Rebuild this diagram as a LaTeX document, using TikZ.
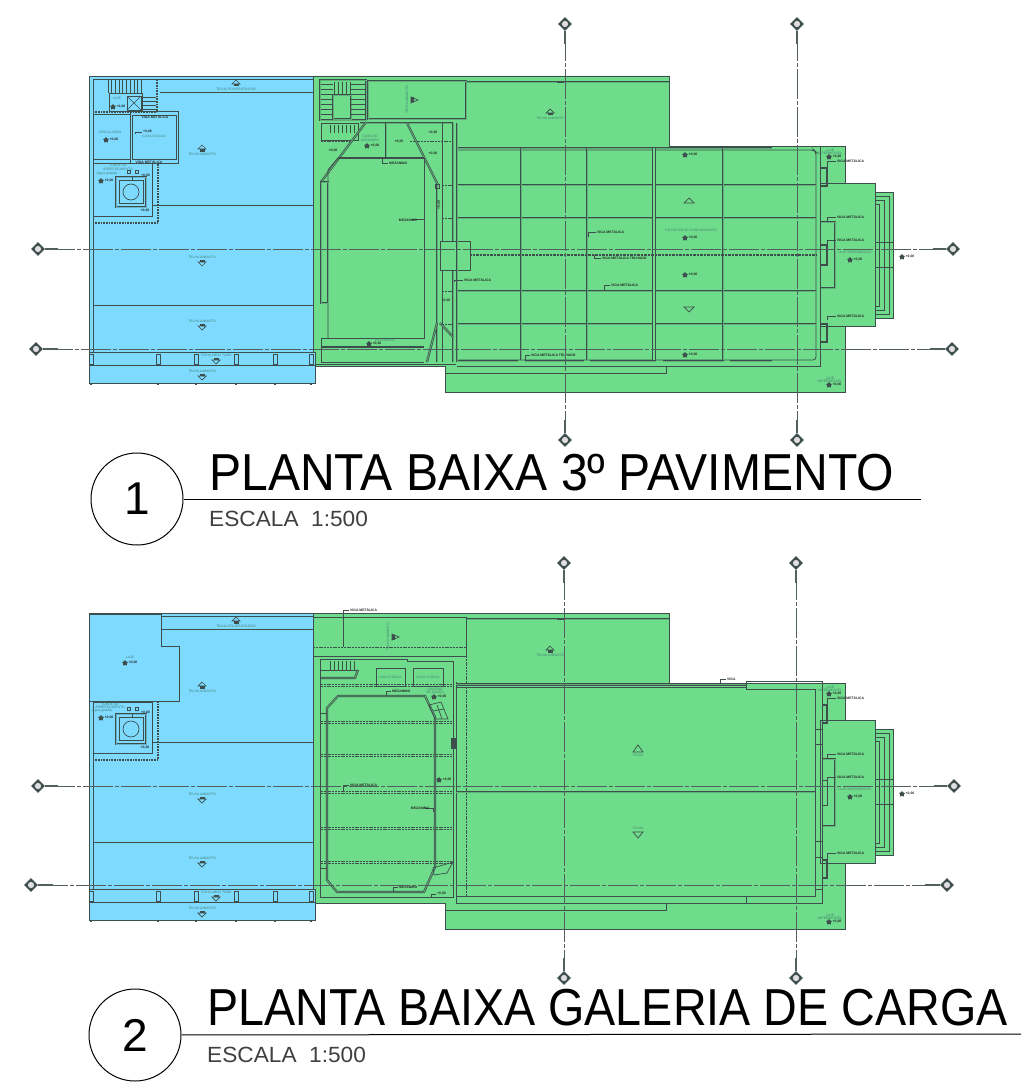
\documentclass[tikz,border=0pt]{standalone}
\usepackage{fontspec}
\setmainfont{Liberation Sans}
\usetikzlibrary{positioning,shapes.geometric}
\definecolor{azul}{RGB}{126,219,255}
\definecolor{verde}{RGB}{110,220,138}
\definecolor{linha}{RGB}{62,78,76}
\definecolor{rotulo}{RGB}{70,130,120}
\tikzset{
  fino/.style={draw=linha,line width=0.7pt},
  medio/.style={draw=linha,line width=0.85pt},
  grosso/.style={draw=linha,line width=1.6pt},
  dupla/.style={draw=linha,line width=0.7pt,double=verde!70!linha,double distance=0.8pt},
  duplaazul/.style={draw=linha,line width=0.7pt,double=azul!70!linha,double distance=0.8pt},
  hachura/.style={draw=linha,line width=1.6pt,dash pattern=on 1pt off 0.6pt},
  tracos/.style={draw=linha,line width=0.7pt,dash pattern=on 2pt off 0.8pt},
  eixo/.style={draw=linha!90!white,line width=0.85pt,dash pattern=on 30pt off 2pt on 4pt off 2pt},
  ponta/.style={draw=linha!90!white,line width=1.6pt},
  marcaeixo/.style={diamond,fill=linha,minimum size=14pt,inner sep=0pt,
    path picture={\draw[draw=linha,fill=white!75!gray,line width=0.7pt] (path picture bounding box.center) circle (3.6pt);}},
  nomeplanta/.style={font=\fontsize{52}{52}\selectfont,anchor=base west,inner sep=0pt,text=black,xscale=0.925},
  escala/.style={font=\fontsize{22}{22}\selectfont,anchor=base west,inner sep=0pt,text=black!75,xscale=1.03},
  numero/.style={circle,draw=black,line width=1pt,minimum size=92pt,inner sep=0pt,font=\fontsize{46}{46}\selectfont,text=black},
  telhatxt/.style={font=\fontsize{3.4}{3.4}\selectfont,text=rotulo,inner sep=0pt},
  notatxt/.style={font=\bfseries\fontsize{3.4}{3.4}\selectfont,text=black!85,inner sep=0pt,align=center},
  nivel/.style={star,star points=5,fill=linha,minimum size=6pt,inner sep=0pt},
}
% seta de caimento e texto da telha
\newcommand{\telhaup}[3]{
  \draw[fino] (#1-4,#2+1) -- (#1,#2-3) -- (#1+4,#2+1) -- cycle;
  \fill[linha] (#1-2.5,#2+1) rectangle (#1+2.5,#2+3.5);
  \node[telhatxt] at (#1,#2+6) {#3};
}
\newcommand{\telhadown}[3]{
  \draw[fino] (#1-4,#2-1) -- (#1,#2+3) -- (#1+4,#2-1) -- cycle;
  \fill[linha] (#1-2.5,#2-1) rectangle (#1+2.5,#2-3.5);
  \node[telhatxt] at (#1,#2-6) {#3};
}
\newcommand{\cotanivel}[3]{
  \node[nivel] at (#1,#2) {};
  \node[notatxt,anchor=west] at (#1+3.5,#2) {#3};
}
\newcommand{\chamada}[5]{
  \draw[fino] (#1,#2) -- (#1,#4) -- (#3,#4);
  \node[notatxt,anchor=west] at (#3+1,#4) {#5};
}
% o que as duas plantas tem em comum
\newcommand{\contorno}{
  \draw[medio,fill=azul] (89,76) rectangle (313,352);
  \draw[medio,fill=azul] (89,352) rectangle (315,383);
  \draw[fino] (89,365) -- (315,365);
  \draw[fino] (89,352) -- (315,352);
  \foreach \xb in {91,158,196,236,275,311} {
    \draw[fino] (\xb-2,354) rectangle (\xb+2,364);
    \fill[linha] (\xb-1,383) rectangle (\xb+1,385);
  }
  \draw[medio,fill=verde] (313,76) -- (669,76) -- (669,146) -- (845,146) -- (845,392)
    -- (445,392) -- (445,366) -- (315,366) -- (315,352) -- (313,352) -- cycle;
  \draw[medio,fill=verde] (875,192) rectangle (893,318);
  \draw[medio,fill=verde] (820,183) rectangle (875,326);
  \draw[fino] (875,196) -- (889,196) -- (889,314) -- (875,314);
  \draw[fino] (875,200) -- (884,200) -- (884,310) -- (875,310);
  \draw[fino] (875,204) -- (879,204) -- (879,306) -- (875,306);
  \draw[medio] (875,242) -- (893,242);
  \draw[medio] (875,267) -- (893,267);
  \draw[dupla] (466,82) -- (669,82);
  \draw[fino] (445,366) -- (445,373) -- (666,373) -- (666,366);
  \fill[linha] (557,81) rectangle (564,83);
}
\begin{document}
\begin{tikzpicture}[x=1pt,y=-1pt]
\useasboundingbox (0,0) rectangle (1021,1089);
\fill[white] (0,0) rectangle (1021,1089);

\contorno
\begin{scope}[shift={(0,537)}]
\contorno
\end{scope}

% ---------- planta 1, lado azul
\draw[fino] (93,79) rectangle (313,352);
\draw[fino] (160,92) -- (313,92);
\draw[fino] (152,205) -- (313,205);
\draw[fino] (93,305) -- (313,305);
\foreach \xb in {108,111.7,...,142} {\draw[fino] (\xb,80) -- (\xb,93);}
\foreach \yb in {97,101,105,109} {\draw[fino] (142,\yb) -- (156,\yb);}
\draw[fino] (109,93) rectangle (142,111);
\draw[fino] (127,96) rectangle (141,110);
\draw[fino] (127,96) -- (141,110);
\draw[fino] (141,96) -- (127,110);
\draw[hachura] (157,80) -- (157,112);
\draw[hachura] (93,112) -- (157,112);
\draw[fino] (130,111) -- (178,111) -- (178,163) -- (130,163) -- cycle;
\draw[fino] (93,114) rectangle (130,159);
\draw[fino] (132,115) rectangle (176,159);
\draw[fino] (93,163) rectangle (152,216);
\draw[hachura] (93,223) -- (158,223) -- (158,163);
\draw[duplaazul] (116,177) rectangle (146,207);
\draw[fino] (119,180) rectangle (143,203);
\draw[fino] (131,192) circle (8);
\draw[fino] (127.5,170.5) rectangle (130.5,173.5);
\draw[fino] (135.5,170.5) rectangle (138.5,173.5);
\node[telhatxt] at (110,132) {CIRCULAÇÃO};
\node[telhatxt] at (154,136) {CASA D'ÁGUA};
\node[telhatxt] at (118,165.5) {TORRE DE};
\node[telhatxt] at (118,169.5) {ARREFECIMENTO};
\node[telhatxt] at (107,174) {(água gelada)};
\node[telhatxt] at (117,98) {LAJE};
\cotanivel{113}{107}{+0,00}
\cotanivel{106}{140}{+0,00}
\cotanivel{101}{181}{+0,00}
\chamada{135}{134}{142}{132}{+0,00}
\chamada{132}{180}{140}{176}{+0,00}
\node[notatxt] at (149,162) {VIGA METÁLICA};
\node[notatxt] at (155,117) {VIGA METÁLICA};
\node[notatxt] at (145,211) {+0,00};
\telhaup{236}{83}{TELHA POLIPROPILENO}
\telhaup{202}{148}{TELHA AMIANTO}
\telhadown{202}{263}{TELHA AMIANTO}
\telhadown{202}{327}{TELHA AMIANTO}
\telhadown{216}{361}{TELHA MEIO TUBO}
\telhadown{202}{377}{TELHA AMIANTO}

% ---------- planta 1, nucleo esquerdo do lado verde
\draw[dupla] (320,80) rectangle (366,120);
\draw[dupla] (333,95) rectangle (351,119);
\foreach \yb in {84,89,94,99,104,109,114} {\draw[fino] (321,\yb) -- (333,\yb);\draw[fino] (351,\yb) -- (365,\yb);}
\foreach \xb in {334,338,342,346,350} {\draw[fino] (\xb,82) -- (\xb,94);}
\draw[dupla] (368,81) rectangle (466,119);
\draw[fino] (321,123) rectangle (358,140);
\foreach \xb in {330,334,338,342,346,350,354} {\draw[fino] (\xb,125) -- (\xb,133);}
\draw[tracos] (321,141) -- (351,141);
\draw[tracos] (410,141) -- (453,141);
\draw[dupla] (360,123) -- (453,123);
\draw[dupla] (366,122) -- (321,182);
\draw[dupla] (407,123) -- (438,185);
\draw[dupla] (386,123) -- (386,158);
\draw[grosso] (338,158) -- (424,158);
\draw[medio] (338,158) -- (328,170) -- (328,338);
\draw[medio] (424,158) -- (424,338) -- (321,338);
\draw[dupla] (321,182) rectangle (328,303);
\draw[medio] (321,338) -- (321,362) -- (424,362);
\draw[grosso] (321,347) -- (424,347);
\draw[dupla] (437,185) -- (437,362);
\draw[fino] (435,184) rectangle (439,188);
\draw[fino] (442,123) -- (442,241);
\draw[fino] (442,270) -- (442,362);
\draw[dupla] (453,123) -- (453,241);
\draw[dupla] (453,270) -- (453,362);
\draw[fino] (440,241) -- (470,241) -- (470,270) -- (440,270) -- cycle;
\draw[dupla] (427,362) -- (437,323);
\draw[dupla] (440,323) -- (453,337);
\draw[fino] (316,364) -- (456,364);
\draw[tracos] (442,185) -- (453,185);
\draw[tracos] (442,218) -- (453,218);
\draw[tracos] (442,291) -- (453,291);
\draw[tracos] (442,324) -- (453,324);
\node[telhatxt,rotate=90] at (407,100) {TELHA AMIANTO};
\draw[fino] (411,97) -- (418,100) -- (411,103) -- cycle;
\fill[linha] (411,97.5) rectangle (413.5,102.5);
\node[telhatxt] at (370,136) {CASA DE};
\node[telhatxt] at (370,140) {MÁQUINAS};
\cotanivel{367}{146}{+0,00}
\node[notatxt] at (333,151) {+0,00};
\node[notatxt] at (399,142) {+0,00};
\node[notatxt] at (433,133) {+0,00};
\node[notatxt] at (433,154) {+0,00};
\node[notatxt] at (446,301) {+0,00};
\chamada{382}{158}{388}{163}{MEZANINO}
\chamada{424}{220}{412}{219}{}
\node[notatxt] at (408,220) {MEZANINO};
\node[telhatxt] at (385,340) {PASSARELA};
\cotanivel{369}{344}{+0,00}
\node[notatxt,rotate=90] at (439,205) {+0,00};

% ---------- planta 1, galpao
\draw[medio,rounded corners=3pt] (457,150) -- (814,150) -- (816,152) -- (816,360) -- (457,360);
\draw[dupla] (457,148) -- (772,148);
\draw[dupla] (457,185) -- (816,185);
\draw[dupla] (457,218) -- (816,218);
\draw[dupla] (457,291) -- (816,291);
\draw[dupla] (457,324) -- (816,324);
\draw[dupla] (521,148) -- (521,360);
\draw[dupla] (587,148) -- (587,360);
\draw[draw=linha,line width=1pt,double=verde,double distance=1.2pt] (654,148) -- (654,360);
\draw[dupla] (723,148) -- (723,360);
\draw[dupla] (457,361) -- (518,361);
\draw[dupla] (525,361) -- (584,361);
\draw[dupla] (590,361) -- (656,361);
\draw[dupla] (663,361) -- (724,361);
\draw[dupla] (730,361) -- (772,361);
\draw[tracos,line width=2.4pt,dash pattern=on 1pt off 0.4pt] (470,255) -- (816,255);
\draw[medio] (820.5,146) -- (820.5,366);
\draw[fino] (457,366) -- (820.5,366);
\draw[dupla] (457,123) -- (457,362);
\draw[grosso] (820.5,168) -- (827,168) -- (827,186) -- (820.5,186);
\draw[grosso] (820.5,324) -- (827,324) -- (827,342) -- (820.5,342);
\draw[dupla] (820.5,222) -- (835,222) -- (835,288) -- (820.5,288);
\draw[grosso] (820.5,245) -- (827,245) -- (827,265) -- (820.5,265);
\draw[fino] (689,198) -- (694,203) -- (684,203) -- cycle;
\draw[fino] (684,307) -- (694,307) -- (689,312) -- cycle;
\telhaup{550}{112}{TELHA AMIANTO}
\node[telhatxt] at (691,230) {DUTOS DO AR CONDICIONADO};
\cotanivel{685}{155}{+0,00}
\cotanivel{685}{238}{+0,00}
\cotanivel{685}{275}{+0,00}
\cotanivel{685}{355}{+0,00}
\chamada{588}{237}{596}{232}{VIGA METÁLICA}
\chamada{594}{255}{601}{258}{VIGA METÁLICA TELHADO}
\chamada{604}{291}{610}{285}{VIGA METÁLICA}
\chamada{525}{360}{530}{355}{VIGA METÁLICA TELHADO}
\chamada{454}{282}{463}{280}{VIGA METÁLICA}
\node[telhatxt] at (830,150) {LAJE};
\node[telhatxt] at (830,153) {IMPERMEÁVEL};
\cotanivel{829}{157}{+0,00}
\chamada{827}{168}{836}{161}{VIGA METÁLICA}
\chamada{827}{222}{836}{217}{VIGA METÁLICA}
\chamada{827}{245}{836}{240}{VIGA METÁLICA}
\chamada{827}{320}{836}{316}{VIGA METÁLICA}
\node[telhatxt] at (855,252) {LAJE IMPERMEÁVEL};
\cotanivel{850}{260}{+0,00}
\node[telhatxt] at (830,378) {LAJE};
\node[telhatxt] at (830,381) {IMPERMEÁVEL};
\cotanivel{829}{385}{+0,00}
\cotanivel{902}{257}{+0,00}

% ---------- eixos da planta 1
\node[marcaeixo] (a1) at (565,24) {};
\node[marcaeixo] (a2) at (565,440) {};
\node[marcaeixo] (b1) at (797,24) {};
\node[marcaeixo] (b2) at (797,440) {};
\node[marcaeixo] (c1) at (38,249) {};
\node[marcaeixo] (c2) at (953,249) {};
\node[marcaeixo] (d1) at (36,349) {};
\node[marcaeixo] (d2) at (952,349) {};
\draw[eixo] (a1) -- (a2);
\draw[eixo] (b1) -- (b2);
\draw[eixo] (c1) -- (c2);
\draw[eixo] (d1) -- (d2);
\draw[ponta] (a1) -- ++(0,20);
\draw[ponta] (a2) -- ++(0,-20);
\draw[ponta] (b1) -- ++(0,20);
\draw[ponta] (b2) -- ++(0,-20);
\draw[ponta] (c1) -- ++(20,0);
\draw[ponta] (c2) -- ++(-20,0);
\draw[ponta] (d1) -- ++(22,0);
\draw[ponta] (d2) -- ++(-22,0);

% ---------- planta 2, lado azul
\draw[fino] (93,616) rectangle (313,889);
\draw[fino,fill=azul] (89,614) -- (161,614) -- (161,646) -- (179,646) -- (179,701) -- (89,701) -- cycle;
\draw[fino] (161,616) -- (313,616);
\draw[fino] (161,629) -- (313,629);
\draw[fino] (152,742) -- (313,742);
\draw[fino] (93,842) -- (313,842);
\draw[fino] (93,702) rectangle (152,753);
\draw[hachura] (93,760) -- (158,760) -- (158,701);
\draw[duplaazul] (116,714) rectangle (146,744);
\draw[fino] (119,717) rectangle (143,740);
\draw[fino] (131,729) circle (8);
\draw[fino] (127.5,707) rectangle (130.5,710);
\draw[fino] (135.5,707) rectangle (138.5,710);
\node[telhatxt] at (130,657) {LAJE};
\cotanivel{125}{663}{+0,00}
\node[telhatxt] at (110,704) {TORRE DE};
\node[telhatxt] at (110,707) {ARREFECIMENTO};
\node[telhatxt] at (102,711) {(água gelada)};
\cotanivel{101}{718}{+0,00}
\chamada{132}{717}{140}{713}{+0,00}
\node[notatxt] at (145,748) {+0,00};
\telhaup{236}{620}{TELHA POLIPROPILENO}
\telhaup{202}{685}{TELHA AMIANTO}
\telhadown{202}{800}{TELHA AMIANTO}
\telhadown{202}{864}{TELHA AMIANTO}
\telhadown{216}{898}{TELHA MEIO TUBO}
\telhadown{202}{914}{TELHA AMIANTO}

% ---------- planta 2, lado verde
\draw[fino] (313,617) -- (466,617) -- (466,656) -- (313,656);
\draw[tracos] (313,647) -- (466,647);
\draw[fino] (343,647) -- (343,610) -- (349,610);
\node[notatxt,anchor=west] at (350,610) {VIGA METÁLICA};
\node[telhatxt,rotate=90] at (388,637) {TELHA AMIANTO};
\draw[fino] (392,634) -- (399,637) -- (392,640) -- cycle;
\fill[linha] (392,634.5) rectangle (394.5,639.5);
\draw[fino] (320,659) -- (407,659) -- (407,661) -- (453,661) -- (453,897) -- (320,897) -- cycle;
\draw[dupla] (321,678) -- (355,678) -- (358,670);
\foreach \xb in {330,334,338,342,346,350,354} {\draw[fino] (\xb,661) -- (\xb,670);}
\draw[fino] (321,670) -- (358,670);
\draw[tracos] (321,684) -- (453,684);
\draw[tracos] (321,686) -- (453,686);
\draw[fino] (376,668) rectangle (405,686);
\draw[fino] (413,668) rectangle (443,686);
\node[telhatxt] at (390,677) {CASA D'ÁGUA};
\node[telhatxt] at (428,677) {CASA D'ÁGUA};
\node[telhatxt] at (435,689) {GALERIA};
\node[telhatxt] at (435,692) {DE CARGA};
\cotanivel{434}{697}{+0,00}
\draw[tracos] (321,721) -- (453,721);
\draw[tracos] (321,723) -- (453,723);
\draw[tracos] (321,754) -- (453,754);
\draw[tracos] (321,756) -- (453,756);
\draw[tracos] (321,791) -- (453,791);
\draw[tracos] (321,793) -- (453,793);
\draw[tracos] (321,827) -- (453,827);
\draw[tracos] (321,829) -- (453,829);
\draw[tracos] (321,861) -- (453,861);
\draw[tracos] (321,863) -- (453,863);
\draw[dupla] (338,696) -- (425,696) -- (435,717) -- (435,867) -- (424,892) -- (337,892) -- (327,880) -- (327,708) -- cycle;
\draw[fino] (320,713) -- (327,713);
\draw[fino] (320,868) -- (327,868);
\draw[fino] (320,713) -- (320,868);
\draw[fino] (429,705) -- (441,702) -- (448,719) -- (435,719) -- cycle;
\draw[fino] (433,711) -- (444,709);
\draw[fino] (437,705) -- (442,719);
\draw[fino] (433,868) -- (453,862) -- (447,873) -- (434,875) -- cycle;
\draw[grosso] (452,739) rectangle (455,748);
\chamada{386}{696}{391}{691}{MEZANINO}
\chamada{343}{792}{349}{785}{VIGA METÁLICA}
\chamada{433}{812}{425}{808}{}
\node[notatxt] at (420,808) {MEZANINO};
\chamada{393}{892}{398}{887}{MEZANINO}
\cotanivel{439}{780}{+0,00}
\chamada{431}{897}{436}{894}{+0,00}

% ---------- planta 2, galeria
\draw[tracos] (466,656) -- (466,896);
\draw[fino] (456,682) -- (456,903);
\draw[dupla] (456,684.5) -- (746,684.5);
\draw[fino] (746,681) -- (822.5,681) -- (822.5,903) -- (456,903);
\draw[fino] (746,681) -- (746,689) -- (815,689) -- (815,896) -- (456,896);
\draw[fino] (456,687) -- (746,687);
\draw[fino] (746,896) -- (746,903);
\draw[dupla] (456,792) -- (815,792);
\draw[fino] (815,729) -- (822.5,729);
\draw[fino] (815,744) -- (822.5,744);
\draw[fino] (815,841) -- (822.5,841);
\draw[fino] (815,857) -- (822.5,857);
\draw[fino] (815,889) -- (822.5,889);
\draw[fino] (720,684) -- (720,679) -- (726,679);
\node[notatxt,anchor=west] at (727,679) {VIGA};
\draw[grosso] (822.5,705) -- (827,705) -- (827,723) -- (822.5,723);
\draw[grosso] (822.5,860) -- (827,860) -- (827,878) -- (822.5,878);
\draw[dupla] (822.5,759) -- (835,759) -- (835,826) -- (822.5,826);
\draw[medio] (822.5,780) -- (827,780) -- (827,805) -- (822.5,805);
\draw[fino] (633,752) -- (638,745) -- (643,752) -- cycle;
\draw[fino] (633,832) -- (643,832) -- (638,838) -- cycle;
\node[telhatxt] at (638,755) {TELHA};
\node[telhatxt] at (638,828) {TELHA};
\telhaup{550}{649}{TELHA AMIANTO}
\node[telhatxt] at (830,687) {LAJE};
\node[telhatxt] at (830,690) {IMPERMEÁVEL};
\cotanivel{829}{694}{+0,00}
\chamada{827}{705}{836}{698}{VIGA METÁLICA}
\chamada{827}{759}{836}{754}{VIGA METÁLICA}
\chamada{827}{780}{836}{777}{VIGA METÁLICA}
\chamada{827}{860}{836}{853}{VIGA METÁLICA}
\node[telhatxt] at (855,789) {LAJE IMPERMEÁVEL};
\cotanivel{850}{797}{+0,00}
\node[telhatxt] at (830,915) {LAJE};
\node[telhatxt] at (830,918) {IMPERMEÁVEL};
\cotanivel{829}{922}{+0,00}
\cotanivel{902}{794}{+0,00}

% ---------- eixos da planta 2
\node[marcaeixo] (e1) at (564,563) {};
\node[marcaeixo] (e2) at (564,978) {};
\node[marcaeixo] (f1) at (796,563) {};
\node[marcaeixo] (f2) at (796,978) {};
\node[marcaeixo] (g1) at (38,786) {};
\node[marcaeixo] (g2) at (954,786) {};
\node[marcaeixo] (h1) at (31,885) {};
\node[marcaeixo] (h2) at (947,885) {};
\draw[eixo] (e1) -- (e2);
\draw[eixo] (f1) -- (f2);
\draw[eixo] (g1) -- (g2);
\draw[eixo] (h1) -- (h2);
\draw[ponta] (e1) -- ++(0,20);
\draw[ponta] (e2) -- ++(0,-20);
\draw[ponta] (f1) -- ++(0,20);
\draw[ponta] (f2) -- ++(0,-20);
\draw[ponta] (g1) -- ++(20,0);
\draw[ponta] (g2) -- ++(-20,0);
\draw[ponta] (h1) -- ++(22,0);
\draw[ponta] (h2) -- ++(-22,0);

% ---------- titulos
\node[numero] (n1) at (137,499) {1};
\coordinate (t1) at (921,499);
\draw[line width=1pt] (n1) -- (t1);
\node[nomeplanta] at (209,490) {PLANTA BAIXA 3º PAVIMENTO};
\node[escala] at (209,526) {ESCALA\ \ 1:500};
\node[numero] (n2) at (135,1035) {2};
\coordinate (t2) at (1021,1034);
\draw[line width=1pt] (n2) -- (t2);
\node[nomeplanta,xscale=0.97] at (207,1025) {PLANTA BAIXA GALERIA DE CARGA};
\node[escala] at (207,1062) {ESCALA\ \ 1:500};
\end{tikzpicture}
\end{document}
